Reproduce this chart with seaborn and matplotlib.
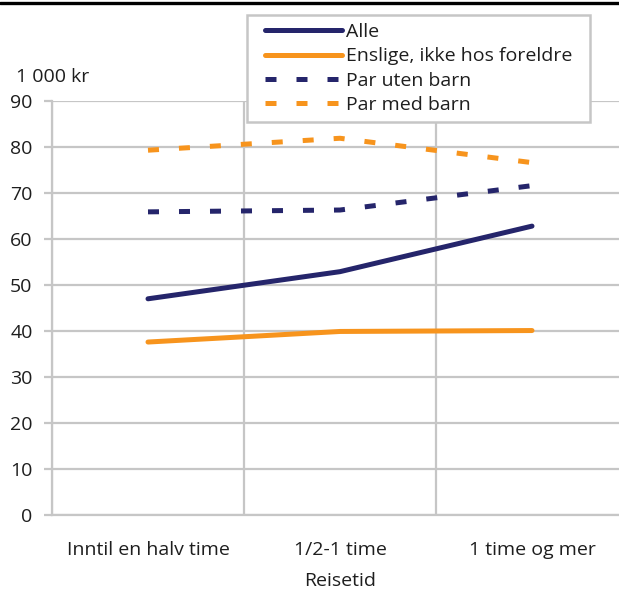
import matplotlib
matplotlib.use("Agg")
import matplotlib.pyplot as plt
from matplotlib.lines import Line2D
from matplotlib.patches import Rectangle
import seaborn as sns
import pandas as pd

# Travel time categories
categories = ["Inntil en halv time", "1/2-1 time", "1 time og mer"]

# Values in 1 000 kr per household type
alle = [47.0, 52.9, 62.8]
enslige = [37.6, 39.9, 40.1]
par_uten_barn = [65.9, 66.3, 71.6]
par_med_barn = [79.3, 81.9, 76.6]

series_names = ["Alle", "Enslige, ikke hos foreldre", "Par uten barn", "Par med barn"]
y_ticks = [0, 10, 20, 30, 40, 50, 60, 70, 80, 90]
x_title = "Reisetid"
y_unit = "1 000 kr"

navy = "#25256b"
orange = "#f7941d"
grid_col = "#c6c6c6"
text_col = "#1e1e1e"
fs = 14
lw = 3.6
dash = (2.2, 4.0)

sns.set_style("white")
plt.rcParams["font.family"] = ["Open Sans", "DejaVu Sans"]

df = pd.DataFrame({
    "cat": categories * 4,
    "pos": list(range(len(categories))) * 4,
    "value": alle + enslige + par_uten_barn + par_med_barn,
    "series": [s for s in series_names for _ in categories],
})

W, H = 619, 589
fig = plt.figure(figsize=(W / 100, H / 100), dpi=100)
ax = fig.add_axes([52 / W, 74 / H, 576 / W, 414 / H])

palette = {series_names[0]: navy, series_names[1]: orange,
           series_names[2]: navy, series_names[3]: orange}
styles = {series_names[0]: "", series_names[1]: "",
          series_names[2]: dash, series_names[3]: dash}

sns.lineplot(data=df, x="pos", y="value", hue="series", style="series",
             palette=palette, dashes=styles, linewidth=lw, ax=ax,
             legend=False, sort=False)
for ln in ax.get_lines():
    ln.set_dash_capstyle("butt")
    ln.set_solid_capstyle("round")
    ln.set_solid_joinstyle("round")

ax.set_xlim(-0.5, 2.5)
ax.set_ylim(0, 90)
ax.set_yticks(y_ticks)
ax.set_xticks(range(len(categories)))
ax.set_xticklabels(categories)
ax.set_xticks([-0.5, 0.5, 1.5, 2.5], minor=True)
ax.grid(False)
ax.yaxis.grid(True, color=grid_col, linewidth=1.6)
ax.xaxis.grid(True, which="minor", color=grid_col, linewidth=1.6)
ax.set_axisbelow(True)
for side in ["top", "right"]:
    ax.spines[side].set_visible(False)
for side in ["left", "bottom"]:
    ax.spines[side].set_color(grid_col)
    ax.spines[side].set_linewidth(1.6)
ax.tick_params(axis="x", which="major", length=0, pad=19, labelsize=fs, labelcolor=text_col)
ax.tick_params(axis="x", which="minor", length=6, width=1.6, color=grid_col, direction="out")
ax.tick_params(axis="y", length=6, width=1.6, color=grid_col, pad=8, labelsize=fs,
               labelcolor=text_col, left=True)
ax.set_xlabel(x_title, fontsize=fs, color=text_col, labelpad=9)
ax.set_ylabel("")

fig.text(16 / W, 1 - 77 / H, y_unit, fontsize=fs, color=text_col, va="center", ha="left")

# Legend box drawn separately so the padding can differ per side
fig.add_artist(Rectangle((247 / W, 1 - 122 / H), (590 - 247) / W, (122 - 15) / H,
                         transform=fig.transFigure, facecolor="white",
                         edgecolor=grid_col, linewidth=1.8, zorder=4))

handles = [
    Line2D([], [], color=navy, lw=lw, solid_capstyle="round"),
    Line2D([], [], color=orange, lw=lw, solid_capstyle="round"),
    Line2D([], [], color=navy, lw=lw, dashes=dash, dash_capstyle="butt"),
    Line2D([], [], color=orange, lw=lw, dashes=dash, dash_capstyle="butt"),
]
leg = fig.legend(handles, series_names, loc="upper left",
                 bbox_to_anchor=(265 / W, 1 - 23 / H), bbox_transform=fig.transFigure,
                 frameon=False, fontsize=fs, handlelength=3.95,
                 handletextpad=0.2, labelspacing=0.33, borderpad=0,
                 borderaxespad=0, labelcolor=text_col)
leg.set_zorder(5)

fig.add_artist(Line2D([0, 1], [1 - 3 / H, 1 - 3 / H], color="black", lw=2.4,
                      transform=fig.transFigure))

fig.savefig("out.png", dpi=100)
